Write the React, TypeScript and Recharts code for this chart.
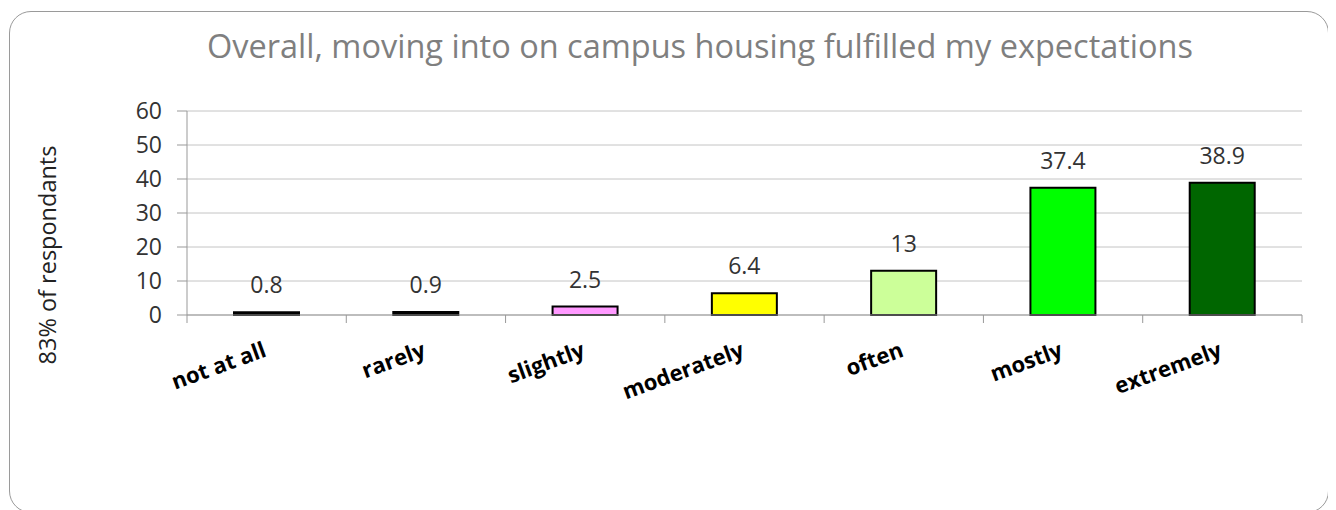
import { BarChart, Bar, XAxis, YAxis, CartesianGrid, Cell, LabelList } from "recharts";

const categories = ["not at all", "rarely", "slightly", "moderately", "often", "mostly", "extremely"];
const values = [0.8, 0.9, 2.5, 6.4, 13, 37.4, 38.9];
const barColors = ["#000000", "#000000", "#ff99ff", "#ffff00", "#ccff99", "#00ff00", "#006600"];
const yTicks = [0, 10, 20, 30, 40, 50, 60];

const data = categories.map((name, i) => ({ name, value: values[i] }));

const FONT = "'Open Sans', sans-serif";

const CategoryTick = (props: any) => {
  const { x, y, payload, index } = props;
  const half = payload && payload.offset ? payload.offset : 79.6;
  return (
    <g>
      <line x1={x - half} y1={y - 8} x2={x - half} y2={y} stroke="#999" strokeWidth={1} />
      {index === categories.length - 1 && (
        <line x1={x + half} y1={y - 8} x2={x + half} y2={y} stroke="#999" strokeWidth={1} />
      )}
      <text
        x={x + 1}
        y={y + 33}
        textAnchor="end"
        transform={`rotate(-20, ${x + 1}, ${y + 33})`}
        fontFamily={FONT}
        fontWeight="bold"
        fontSize={22}
        fill="#000"
      >
        {payload.value}
      </text>
    </g>
  );
};

const App = () => {
  return (
    <div style={{ position: "relative", width: 1320, height: 502, overflow: "hidden" }}>
      <div
        style={{
          position: "absolute",
          left: 1,
          top: 3,
          width: 1320,
          height: 502,
          border: "1.5px solid #9a9a9a",
          borderRadius: 22,
          boxSizing: "border-box",
        }}
      />
      <div
        style={{
          position: "absolute",
          left: 0,
          top: 18,
          width: 1384,
          textAlign: "center",
          fontFamily: FONT,
          fontSize: 32.5,
          color: "#7f7f7f",
          lineHeight: "40px",
        }}
      >
        Overall, moving into on campus housing fulfilled my expectations
      </div>
      <div style={{ position: "absolute", left: 0, top: 0 }}>
        <BarChart
          width={1320}
          height={500}
          data={data}
          margin={{ top: 103, right: 26, left: 0, bottom: 0 }}
          barSize={65}
        >
          <CartesianGrid vertical={false} stroke="#c4c4c4" strokeWidth={1} />
          <XAxis
            dataKey="name"
            height={193}
            axisLine={{ stroke: "#999", strokeWidth: 1 }}
            tickLine={false}
            interval={0}
            tick={<CategoryTick />}
          />
          <YAxis
            width={179}
            domain={[0, 60]}
            ticks={yTicks}
            interval={0}
            axisLine={{ stroke: "#999", strokeWidth: 1 }}
            tickLine={{ stroke: "#999", strokeWidth: 1 }}
            tickSize={10}
            tickMargin={15}
            tick={{ fontFamily: FONT, fontSize: 23, fill: "#333" }}
            label={{
              content: () => (
                <text
                  x={39}
                  y={247}
                  textAnchor="middle"
                  dominantBaseline="central"
                  transform="rotate(-90, 39, 247)"
                  fontFamily={FONT}
                  fontSize={23.5}
                  fill="#222"
                >
                  83% of respondants
                </text>
              ),
            }}
          />
          <Bar dataKey="value" stroke="#000" strokeWidth={2} isAnimationActive={false}>
            {data.map((_, i) => (
              <Cell key={i} fill={barColors[i]} />
            ))}
            <LabelList
              dataKey="value"
              position="top"
              offset={19}
              fontFamily={FONT}
              fontSize={23}
              fill="#333"
            />
          </Bar>
        </BarChart>
      </div>
    </div>
  );
};

export default App;
